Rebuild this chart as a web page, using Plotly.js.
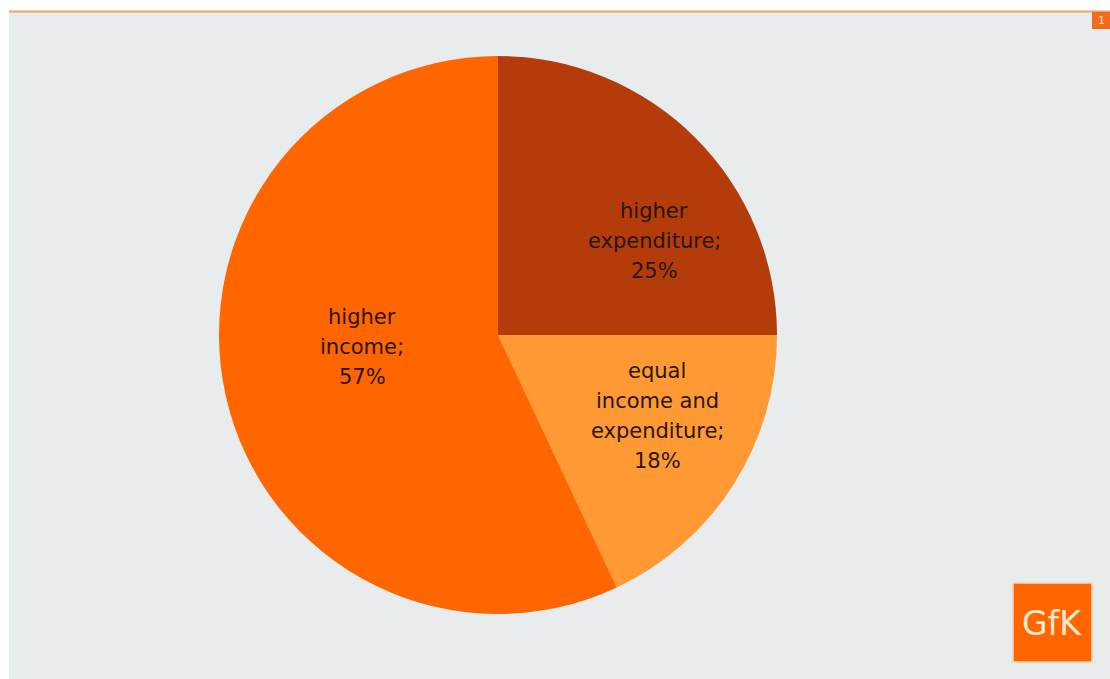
<!DOCTYPE html>
<html>
<head>
<meta charset="utf-8">
<script src="https://cdn.plot.ly/plotly-3.0.1.min.js"></script>
<style>html,body{margin:0;padding:0;background:#fff;}#chart{width:1110px;height:679px;}</style>
</head>
<body>
<div id="chart"></div>
<script>
const categories = ["higher expenditure", "equal income and expenditure", "higher income"];
const values = [25, 18, 57];
const labelLines = [["higher", "expenditure;", "25%"], ["equal", "income and", "expenditure;", "18%"], ["higher", "income;", "57%"]];
const colors = ["#B33C0A", "#FF9933", "#FF6600"];

const W = 1110, H = 679;
const px = x => x / W;
const py = y => 1 - y / H;

const trace = {
  type: "pie",
  labels: categories,
  values: values,
  sort: false,
  direction: "clockwise",
  rotation: 0,
  marker: {colors: colors, line: {width: 0}},
  textinfo: "none",
  hoverinfo: "label+percent",
  showlegend: false,
  domain: {x: [px(219), px(777)], y: [py(614), py(56)]}
};

const labelPos = [[654, 241], [657, 416], [362, 347]];
const lineGap = 30;
const annotations = [];
labelLines.forEach((lines, i) => {
  const n = lines.length;
  lines.forEach((t, j) => {
    annotations.push({
      xref: "paper", yref: "paper",
      x: px(labelPos[i][0]), y: py(labelPos[i][1] + (j - (n - 1) / 2) * lineGap),
      xanchor: "center", yanchor: "middle",
      text: t, showarrow: false,
      font: {family: "DejaVu Sans", size: 21, color: "#2A150B"}
    });
  });
});
annotations.push({
  xref: "paper", yref: "paper", x: px(1052), y: py(623),
  xanchor: "center", yanchor: "middle", text: "GfK", showarrow: false,
  font: {family: "DejaVu Sans", size: 33, color: "#FFEBCF"}
});
annotations.push({
  xref: "paper", yref: "paper", x: px(1101), y: py(20),
  xanchor: "center", yanchor: "middle", text: "1", showarrow: false,
  font: {family: "DejaVu Sans", size: 11, color: "#FFE8CC"}
});

const layout = {
  width: W, height: H,
  margin: {l: 0, r: 0, t: 0, b: 0},
  paper_bgcolor: "#FFFFFF",
  shapes: [
    {type: "rect", xref: "paper", yref: "paper", x0: px(9), x1: 1, y0: 0, y1: py(12), fillcolor: "#E8ECEC", line: {width: 0}, layer: "below"},
    {type: "line", xref: "paper", yref: "paper", x0: px(9), x1: 1, y0: py(11.5), y1: py(11.5), line: {color: "#E3A869", width: 2}, layer: "below"},
    {type: "rect", xref: "paper", yref: "paper", x0: px(1092), x1: 1, y0: py(29), y1: py(12), fillcolor: "#F26A1B", line: {width: 0}, layer: "below"},
    {type: "rect", xref: "paper", yref: "paper", x0: px(1013), x1: px(1092), y0: py(662), y1: py(583), fillcolor: "#FF6600", line: {color: "#FAD2B0", width: 1.5}, layer: "below"}
  ],
  annotations: annotations
};

Plotly.newPlot("chart", [trace], layout, {displayModeBar: false, staticPlot: true});
</script>
</body>
</html>
